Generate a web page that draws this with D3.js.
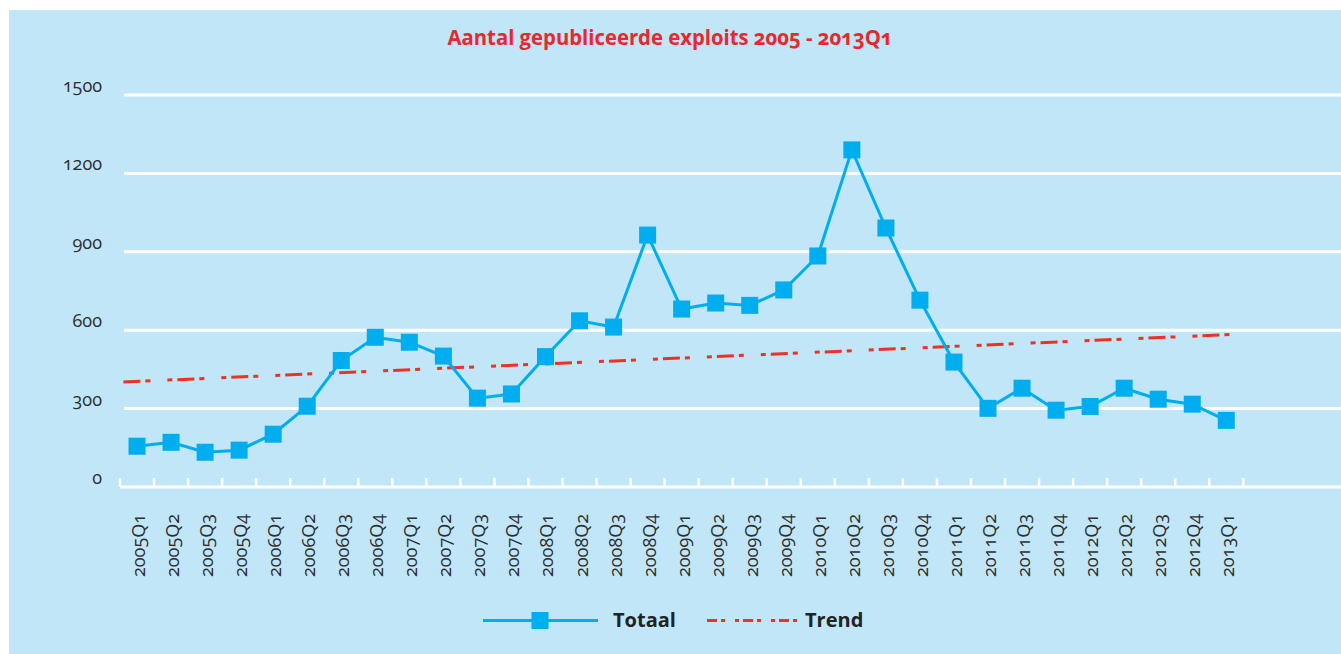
<!DOCTYPE html>
<html>
<head>
<meta charset="utf-8">
<script src="https://cdn.jsdelivr.net/npm/d3@7"></script>
<style>
  body { margin: 0; background: #fff; }
  svg { display: block; }
  text { font-family: "Open Sans", "Noto Sans", sans-serif; font-feature-settings: "onum"; }
</style>
</head>
<body>
<div id="chart"></div>
<script>
// data
var quarters = ["2005Q1","2005Q2","2005Q3","2005Q4","2006Q1","2006Q2","2006Q3","2006Q4",
  "2007Q1","2007Q2","2007Q3","2007Q4","2008Q1","2008Q2","2008Q3","2008Q4",
  "2009Q1","2009Q2","2009Q3","2009Q4","2010Q1","2010Q2","2010Q3","2010Q4",
  "2011Q1","2011Q2","2011Q3","2011Q4","2012Q1","2012Q2","2012Q3","2012Q4","2013Q1"];
var totaal = [156,171,133,141,202,309,484,573,
  554,501,340,356,499,636,612,964,
  681,704,695,754,884,1290,991,715,
  478,301,378,294,308,378,336,317,255];
// trend line ends (quarter index, value)
var trendPos = [-0.4, 32.4];
var trendVals = [402, 585];
var yTicks = [0, 300, 600, 900, 1200, 1500];

var W = 1341, H = 654;
var blue = "#00adef", red = "#ee3124", bg = "#c0e6f8", ink = "#2e2e2e";

var svg = d3.select("#chart").append("svg")
  .attr("width", W)
  .attr("height", H);

svg.append("rect")
  .attr("x", 9).attr("y", 10)
  .attr("width", W - 9).attr("height", H - 10)
  .attr("fill", bg);

var x = d3.scaleBand().domain(quarters).range([120, 1243.3]);
var y = d3.scaleLinear().domain([0, 1500]).range([487, 95]);
var bw = x.bandwidth();
var xi = d3.scaleLinear()
  .domain([0, quarters.length - 1])
  .range([x(quarters[0]) + bw / 2, x(quarters[quarters.length - 1]) + bw / 2]);

// title
svg.append("text")
  .attr("x", 670).attr("y", 45)
  .attr("text-anchor", "middle")
  .attr("textLength", 445)
  .attr("lengthAdjust", "spacingAndGlyphs")
  .style("font-size", "21px")
  .style("font-weight", "bold")
  .attr("fill", "#e8282c")
  .text("Aantal gepubliceerde exploits 2005 - 2013Q1");

// gridlines
svg.append("g").selectAll("line").data(yTicks.filter(function(d) { return d > 0; }))
  .enter().append("line")
  .attr("x1", 124).attr("x2", W)
  .attr("y1", function(d) { return y(d); })
  .attr("y2", function(d) { return y(d); })
  .attr("stroke", "#fff")
  .attr("stroke-width", 3);

// y labels
svg.append("g").selectAll("text").data(yTicks)
  .enter().append("text")
  .attr("x", 102)
  .attr("y", function(d) { return y(d) - 3; })
  .attr("text-anchor", "end")
  .style("font-size", "18px")
  .attr("fill", ink)
  .text(function(d) { return d; });

// x axis
svg.append("line")
  .attr("x1", 120).attr("x2", W)
  .attr("y1", y(0)).attr("y2", y(0))
  .attr("stroke", "#fff").attr("stroke-width", 3);

var edges = quarters.map(function(q) { return x(q); }).concat([x.range()[1]]);
svg.append("g").selectAll("line").data(edges)
  .enter().append("line")
  .attr("x1", function(d) { return d; })
  .attr("x2", function(d) { return d; })
  .attr("y1", y(0)).attr("y2", y(0) - 9)
  .attr("stroke", "#fff").attr("stroke-width", 2.5);

svg.append("g").selectAll("text").data(quarters)
  .enter().append("text")
  .attr("transform", function(d) { return "translate(" + (x(d) + bw / 2 + 8) + ",577) rotate(-90)"; })
  .attr("text-anchor", "start")
  .style("font-size", "18px")
  .attr("fill", ink)
  .text(function(d) { return d; });

// trend
var trendLine = d3.line()
  .x(function(d) { return xi(d[0]); })
  .y(function(d) { return y(d[1]); });
svg.append("path")
  .datum(d3.zip(trendPos, trendVals))
  .attr("d", trendLine)
  .attr("fill", "none")
  .attr("stroke", red)
  .attr("stroke-width", 3)
  .attr("stroke-dasharray", "17,5,5,17,5,5");

// totaal
var line = d3.line()
  .x(function(d, i) { return x(quarters[i]) + bw / 2; })
  .y(function(d) { return y(d); });
svg.append("path")
  .datum(totaal)
  .attr("d", line)
  .attr("fill", "none")
  .attr("stroke", blue)
  .attr("stroke-width", 3);

svg.append("g").selectAll("rect").data(totaal)
  .enter().append("rect")
  .attr("x", function(d, i) { return x(quarters[i]) + bw / 2 - 8.5; })
  .attr("y", function(d) { return y(d) - 8.5; })
  .attr("width", 17).attr("height", 17)
  .attr("fill", blue);

// legend
var leg = svg.append("g");
leg.append("line")
  .attr("x1", 483).attr("x2", 598).attr("y1", 620.5).attr("y2", 620.5)
  .attr("stroke", blue).attr("stroke-width", 3);
leg.append("rect")
  .attr("x", 531.5).attr("y", 612).attr("width", 17).attr("height", 17)
  .attr("fill", blue);
leg.append("text")
  .attr("x", 613).attr("y", 627)
  .style("font-size", "20px").style("font-weight", "bold")
  .attr("fill", "#222")
  .text("Totaal");
leg.append("line")
  .attr("x1", 707).attr("x2", 799).attr("y1", 620.5).attr("y2", 620.5)
  .attr("stroke", red).attr("stroke-width", 3)
  .attr("stroke-dasharray", "10,4,4,10,4,4");
leg.append("text")
  .attr("x", 805).attr("y", 627)
  .style("font-size", "20px").style("font-weight", "bold")
  .attr("fill", "#222")
  .text("Trend");
</script>
</body>
</html>
